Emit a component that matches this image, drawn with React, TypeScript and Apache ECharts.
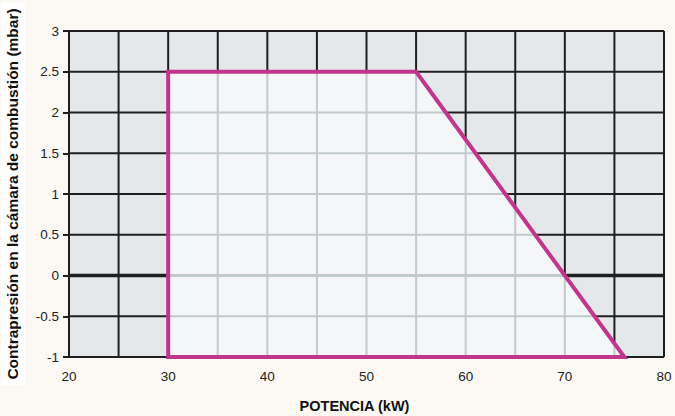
import React, { useEffect, useRef } from "react";
import * as echarts from "echarts";

// Operating envelope polygon (kW, mbar)
const envelopeX = [30, 30, 55, 76];
const envelopeY = [-1, 2.5, 2.5, -1];

// Grid line positions
const gridXValues = [20, 25, 30, 35, 40, 45, 50, 55, 60, 65, 70, 75, 80];
const gridYValues = [-1, -0.5, 0, 0.5, 1, 1.5, 2, 2.5, 3];

const X_MIN = 20, X_MAX = 80, Y_MIN = -1, Y_MAX = 3;

function segInside(vertical: boolean, c: number): [number, number] | null {
  const n = envelopeX.length;
  const vals: number[] = [];
  for (let i = 0; i < n; i++) {
    const ax = envelopeX[i], ay = envelopeY[i];
    const bx = envelopeX[(i + 1) % n], by = envelopeY[(i + 1) % n];
    const a = vertical ? ax : ay, b = vertical ? bx : by;
    const oa = vertical ? ay : ax, ob = vertical ? by : bx;
    if (a === b) {
      if (a === c) { vals.push(oa, ob); }
      continue;
    }
    const t = (c - a) / (b - a);
    if (t >= 0 && t <= 1) vals.push(oa + t * (ob - oa));
  }
  if (vals.length < 2) return null;
  return [Math.min(...vals), Math.max(...vals)];
}

export default function App() {
  const ref = useRef<HTMLDivElement>(null);
  useEffect(() => {
    if (!ref.current) return;
    const chart = echarts.init(ref.current, null, { renderer: "svg" });
    const black = "#1f1f1f";
    const light = "#c3cacd";
    const font = "Liberation Sans, Arial, sans-serif";
    const renderItem = (params: any, api: any) => {
      const children: any[] = [];
      const c = (x: number, y: number) => api.coord([x, y]);
      gridXValues.forEach((x) => {
        const p1 = c(x, Y_MIN), p2 = c(x, Y_MAX);
        children.push({ type: "line", shape: { x1: p1[0], y1: p1[1], x2: p2[0], y2: p2[1] }, style: { stroke: black, lineWidth: 2 } });
      });
      gridYValues.forEach((y) => {
        const p1 = c(X_MIN, y), p2 = c(X_MAX, y);
        children.push({ type: "line", shape: { x1: p1[0], y1: p1[1], x2: p2[0], y2: p2[1] }, style: { stroke: black, lineWidth: y === 0 ? 3.5 : 2 } });
      });
      const pts = envelopeX.map((x, i) => c(x, envelopeY[i]));
      children.push({ type: "polygon", shape: { points: pts }, style: { fill: "#f4f6f8", stroke: "none" } });
      gridXValues.forEach((x) => {
        const s = segInside(true, x);
        if (!s) return;
        const p1 = c(x, s[0]), p2 = c(x, s[1]);
        children.push({ type: "line", shape: { x1: p1[0], y1: p1[1], x2: p2[0], y2: p2[1] }, style: { stroke: light, lineWidth: 2 } });
      });
      gridYValues.forEach((y) => {
        const s = segInside(false, y);
        if (!s) return;
        const p1 = c(s[0], y), p2 = c(s[1], y);
        children.push({ type: "line", shape: { x1: p1[0], y1: p1[1], x2: p2[0], y2: p2[1] }, style: { stroke: light, lineWidth: y === 0 ? 3 : 2 } });
      });
      const b1 = c(X_MIN, Y_MIN), b2 = c(X_MAX, Y_MIN);
      children.push({ type: "line", shape: { x1: b1[0], y1: b1[1], x2: b2[0], y2: b2[1] }, style: { stroke: black, lineWidth: 2 } });
      children.push({ type: "polygon", shape: { points: pts }, style: { fill: "none", stroke: "#c2358d", lineWidth: 4, lineJoin: "miter" } });
      return { type: "group", children };
    };
    chart.setOption({
      animation: false,
      backgroundColor: "#fcf9f5",
      grid: { left: 69, right: 11, top: 31, bottom: 59, containLabel: false, outerBoundsMode: "none", show: true, backgroundColor: "#e4e8eb", borderWidth: 0 },
      xAxis: {
        type: "value", min: X_MIN, max: X_MAX, interval: 10,
        axisLine: { show: false },
        axisTick: { show: true, length: 4, lineStyle: { color: black, width: 1.5 } },
        splitLine: { show: false },
        axisLabel: { color: "#222", fontSize: 13.5, fontFamily: font, margin: 12 },
        name: "POTENCIA (kW)", nameLocation: "middle", nameGap: 41,
        nameTextStyle: { color: "#111", fontSize: 14.5, fontWeight: "bold", fontFamily: font, padding: [0, 24, 0, 0] },
      },
      yAxis: {
        type: "value", min: Y_MIN, max: Y_MAX, interval: 0.5,
        axisLine: { show: false },
        axisTick: { show: true, length: 6, lineStyle: { color: black, width: 2 } },
        splitLine: { show: false },
        axisLabel: { color: "#222", fontSize: 13.5, fontFamily: font, margin: 10 },
        name: "Contrapresión en la cámara de combustión (mbar)", nameLocation: "middle", nameGap: 40, nameRotate: 90,
        nameTextStyle: { color: "#111", fontSize: 15.5, fontWeight: "bold", fontFamily: font, backgroundColor: "#ffffff", padding: [4, 6, 4, 6] },
      },
      series: [{
        type: "custom", renderItem, data: [[X_MIN, Y_MIN]], clip: false, silent: true,
      }],
    });
    return () => chart.dispose();
  }, []);
  return <div ref={ref} style={{ position: "fixed", left: 0, top: 0, width: 675, height: 416 }} />;
}
